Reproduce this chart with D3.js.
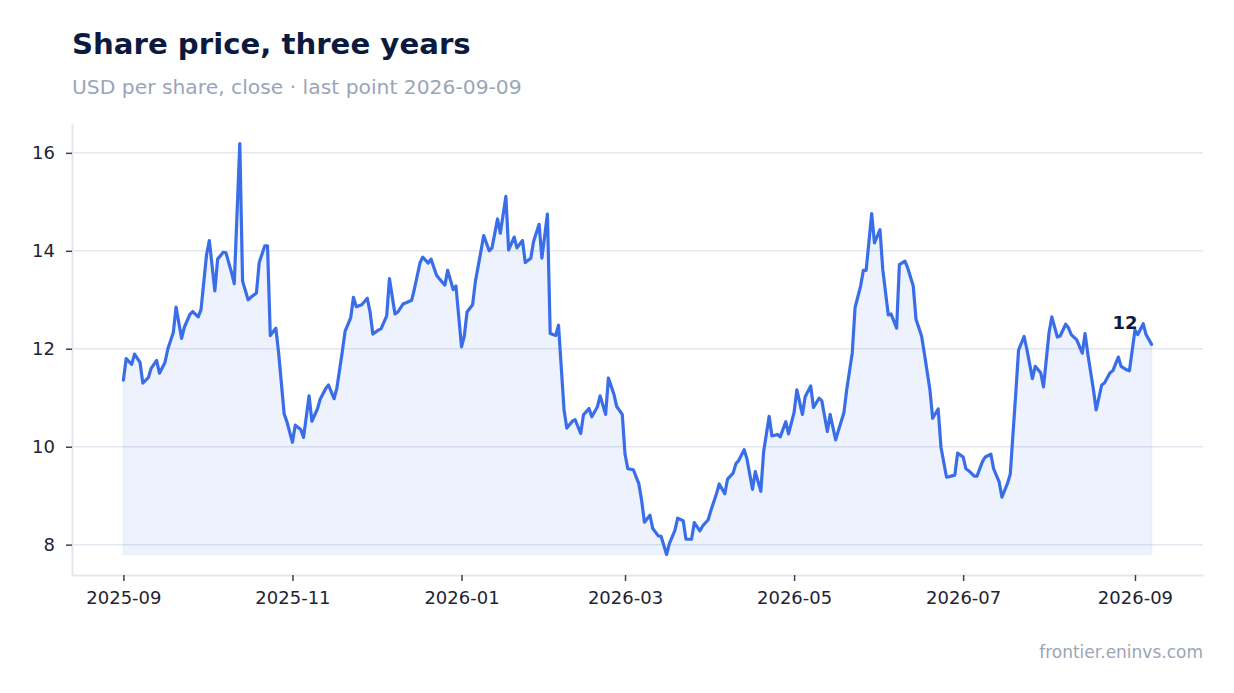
<!DOCTYPE html>
<html>
<head>
<meta charset="utf-8">
<script src="https://cdn.jsdelivr.net/npm/d3@7"></script>
<style>
  body { margin: 0; background: #fff; }
  svg { font-family: "DejaVu Sans", sans-serif; display: block; }
</style>
</head>
<body>
<div id="chart"></div>
<script>
// closing prices
const dates = [
  "2025-09-01","2025-09-02","2025-09-04","2025-09-05","2025-09-07","2025-09-08","2025-09-10","2025-09-11","2025-09-13","2025-09-14",
  "2025-09-16","2025-09-17","2025-09-19","2025-09-20","2025-09-22","2025-09-23","2025-09-25","2025-09-26","2025-09-28","2025-09-29",
  "2025-10-01","2025-10-02","2025-10-04","2025-10-05","2025-10-07","2025-10-08","2025-10-10","2025-10-11","2025-10-13","2025-10-14",
  "2025-10-16","2025-10-17","2025-10-19","2025-10-20","2025-10-22","2025-10-23","2025-10-24","2025-10-26","2025-10-27","2025-10-29",
  "2025-10-30","2025-11-01","2025-11-02","2025-11-04","2025-11-05","2025-11-07","2025-11-08","2025-11-10","2025-11-11","2025-11-13",
  "2025-11-14","2025-11-16","2025-11-17","2025-11-19","2025-11-20","2025-11-22","2025-11-23","2025-11-24","2025-11-26","2025-11-28",
  "2025-11-29","2025-11-30","2025-12-02","2025-12-03","2025-12-05","2025-12-06","2025-12-08","2025-12-09","2025-12-11","2025-12-12",
  "2025-12-14","2025-12-15","2025-12-17","2025-12-18","2025-12-20","2025-12-21","2025-12-23","2025-12-24","2025-12-26","2025-12-27",
  "2025-12-29","2025-12-30","2026-01-01","2026-01-02","2026-01-03","2026-01-05","2026-01-06","2026-01-08","2026-01-09","2026-01-11",
  "2026-01-12","2026-01-14","2026-01-15","2026-01-17","2026-01-18","2026-01-20","2026-01-21","2026-01-23","2026-01-24","2026-01-26",
  "2026-01-27","2026-01-29","2026-01-30","2026-02-01","2026-02-02","2026-02-04","2026-02-05","2026-02-07","2026-02-08","2026-02-10",
  "2026-02-11","2026-02-13","2026-02-14","2026-02-16","2026-02-17","2026-02-19","2026-02-20","2026-02-22","2026-02-23","2026-02-25",
  "2026-02-26","2026-02-28","2026-03-01","2026-03-02","2026-03-04","2026-03-06","2026-03-07","2026-03-08","2026-03-10","2026-03-11",
  "2026-03-13","2026-03-14","2026-03-16","2026-03-17","2026-03-19","2026-03-20","2026-03-22","2026-03-23","2026-03-25","2026-03-26",
  "2026-03-28","2026-03-29","2026-03-31","2026-04-01","2026-04-03","2026-04-04","2026-04-06","2026-04-07","2026-04-09","2026-04-10",
  "2026-04-11","2026-04-13","2026-04-14","2026-04-16","2026-04-17","2026-04-19","2026-04-20","2026-04-22","2026-04-23","2026-04-25",
  "2026-04-26","2026-04-28","2026-04-29","2026-05-01","2026-05-02","2026-05-04","2026-05-05","2026-05-07","2026-05-08","2026-05-10",
  "2026-05-11","2026-05-13","2026-05-14","2026-05-16","2026-05-17","2026-05-19","2026-05-20","2026-05-22","2026-05-23","2026-05-25",
  "2026-05-26","2026-05-27","2026-05-29","2026-05-30","2026-06-01","2026-06-02","2026-06-04","2026-06-05","2026-06-07","2026-06-08",
  "2026-06-10","2026-06-11","2026-06-13","2026-06-14","2026-06-16","2026-06-17","2026-06-19","2026-06-20","2026-06-22","2026-06-23",
  "2026-06-25","2026-06-26","2026-06-28","2026-06-29","2026-07-01","2026-07-02","2026-07-03","2026-07-05","2026-07-06","2026-07-08",
  "2026-07-09","2026-07-11","2026-07-12","2026-07-14","2026-07-15","2026-07-17","2026-07-18","2026-07-20","2026-07-21","2026-07-23",
  "2026-07-24","2026-07-26","2026-07-27","2026-07-29","2026-07-30","2026-08-01","2026-08-02","2026-08-04","2026-08-05","2026-08-07",
  "2026-08-08","2026-08-09","2026-08-11","2026-08-13","2026-08-14","2026-08-15","2026-08-17","2026-08-18","2026-08-20","2026-08-21",
  "2026-08-23","2026-08-24","2026-08-26","2026-08-27","2026-08-29","2026-08-30","2026-09-01","2026-09-02","2026-09-04","2026-09-05",
  "2026-09-07"
];

const prices = [
  11.36, 11.80, 11.68, 11.89, 11.72, 11.30, 11.41, 11.60, 11.76, 11.50,
  11.72, 11.99, 12.33, 12.85, 12.21, 12.44, 12.70, 12.76, 12.65, 12.80,
  13.92, 14.21, 13.18, 13.83, 13.97, 13.96, 13.56, 13.33, 16.19, 13.38,
  13.00, 13.05, 13.14, 13.76, 14.10, 14.10, 12.27, 12.42, 11.92, 10.67,
  10.51, 10.09, 10.44, 10.35, 10.19, 11.04, 10.52, 10.77, 10.97, 11.19,
  11.26, 10.98, 11.19, 11.95, 12.36, 12.63, 13.05, 12.86, 12.90, 13.03,
  12.75, 12.30, 12.38, 12.41, 12.67, 13.43, 12.71, 12.75, 12.92, 12.94,
  12.99, 13.22, 13.75, 13.87, 13.75, 13.83, 13.50, 13.43, 13.30, 13.60,
  13.21, 13.28, 12.04, 12.26, 12.75, 12.90, 13.37, 13.99, 14.31, 14.00,
  14.06, 14.65, 14.36, 15.11, 14.02, 14.28, 14.06, 14.21, 13.76, 13.85,
  14.19, 14.54, 13.85, 14.75, 12.31, 12.27, 12.48, 10.75, 10.38, 10.52,
  10.55, 10.27, 10.65, 10.78, 10.61, 10.81, 11.04, 10.66, 11.40, 11.07,
  10.82, 10.66, 9.85, 9.55, 9.53, 9.24, 8.90, 8.46, 8.60, 8.33,
  8.18, 8.17, 7.80, 8.02, 8.29, 8.54, 8.49, 8.11, 8.11, 8.45,
  8.28, 8.38, 8.51, 8.70, 9.04, 9.24, 9.04, 9.34, 9.46, 9.65,
  9.72, 9.94, 9.75, 9.13, 9.49, 9.09, 9.89, 10.62, 10.22, 10.25,
  10.20, 10.51, 10.26, 10.70, 11.16, 10.66, 11.02, 11.24, 10.80, 10.99,
  10.94, 10.31, 10.66, 10.14, 10.33, 10.70, 11.17, 11.92, 12.84, 13.28,
  13.60, 13.60, 14.76, 14.16, 14.43, 13.62, 12.69, 12.71, 12.42, 13.72,
  13.79, 13.65, 13.28, 12.60, 12.26, 11.91, 11.17, 10.58, 10.77, 9.99,
  9.38, 9.39, 9.42, 9.87, 9.79, 9.55, 9.51, 9.40, 9.40, 9.70,
  9.79, 9.85, 9.55, 9.28, 8.97, 9.25, 9.44, 11.10, 11.97, 12.25,
  11.99, 11.39, 11.64, 11.51, 11.22, 12.33, 12.65, 12.24, 12.26, 12.50,
  12.43, 12.29, 12.18, 11.91, 12.31, 11.89, 11.17, 10.75, 11.26, 11.30,
  11.51, 11.55, 11.83, 11.64, 11.57, 11.55, 12.38, 12.29, 12.51, 12.29,
  12.09
];

const title = "Share price, three years";
const subtitle = "USD per share, close \u00b7 last point 2026-09-09";
const source = "frontier.eninvs.com";

const width = 1234;
const height = 693;
const margin = { top: 123, right: 31, bottom: 118, left: 72 };

const parseDate = d3.timeParse("%Y-%m-%d");
const data = dates.map((d, i) => ({ date: parseDate(d), value: prices[i] }));

const svg = d3.select("#chart")
    .append("svg")
    .attr("width", width)
    .attr("height", height);

// pad both domains by 5% like the original
const xExt = d3.extent(data, d => d.date);
const xPad = (xExt[1] - xExt[0]) * 0.05;
const yExt = d3.extent(data, d => d.value);
const yPad = (yExt[1] - yExt[0]) * 0.05;

const x = d3.scaleTime()
    .domain([new Date(+xExt[0] - xPad), new Date(+xExt[1] + xPad)])
    .range([margin.left, width - margin.right]);

const y = d3.scaleLinear()
    .domain([yExt[0] - yPad, yExt[1] + yPad])
    .range([height - margin.bottom, margin.top]);

// grid
svg.append("g")
    .selectAll("line")
    .data(y.ticks(5))
    .enter().append("line")
    .attr("x1", margin.left)
    .attr("x2", width - margin.right)
    .attr("y1", d => y(d))
    .attr("y2", d => y(d))
    .attr("stroke", "#e3e8f0")
    .attr("stroke-width", 1.5);

// area + line
const area = d3.area()
    .x(d => x(d.date))
    .y0(y(yExt[0]))
    .y1(d => y(d.value));

const line = d3.line()
    .x(d => x(d.date))
    .y(d => y(d.value));

svg.append("path")
    .datum(data)
    .attr("d", area)
    .attr("fill", "#3a6ee8")
    .attr("fill-opacity", 0.09)
    .attr("stroke", "#3a6ee8")
    .attr("stroke-opacity", 0.06)
    .attr("stroke-width", 1.5);

svg.append("path")
    .datum(data)
    .attr("d", line)
    .attr("fill", "none")
    .attr("stroke", "#3a6ee8")
    .attr("stroke-width", 3.2)
    .attr("stroke-linejoin", "round")
    .attr("stroke-linecap", "round");

// axes
const xAxis = svg.append("g")
    .attr("transform", `translate(0,${height - margin.bottom})`)
    .call(d3.axisBottom(x)
        .ticks(d3.timeMonth.every(2))
        .tickFormat(d3.timeFormat("%Y-%m"))
        .tickSize(6)
        .tickSizeOuter(0)
        .tickPadding(10));

const yAxis = svg.append("g")
    .attr("transform", `translate(${margin.left},0)`)
    .call(d3.axisLeft(y)
        .ticks(5)
        .tickSize(6)
        .tickSizeOuter(0)
        .tickPadding(11));

[xAxis, yAxis].forEach(g => {
    g.select(".domain")
        .attr("stroke", "#e2e7ef")
        .attr("stroke-width", 2);
    g.selectAll(".tick line")
        .attr("stroke", "#3b404c")
        .attr("stroke-width", 1.5);
    g.selectAll(".tick text")
        .attr("fill", "#1f2433")
        .attr("font-size", 18)
        .attr("font-family", "DejaVu Sans");
});

// last value label
const last = data[data.length - 1];
svg.append("text")
    .attr("x", x(last.date) - 14)
    .attr("y", y(last.value) - 15)
    .attr("text-anchor", "end")
    .attr("font-size", 18)
    .attr("font-weight", "bold")
    .attr("fill", "#0d1a40")
    .text(d3.format(".0f")(last.value));

// titles
svg.append("text")
    .attr("x", 72)
    .attr("y", 54)
    .attr("font-size", 29.2)
    .attr("font-weight", "bold")
    .attr("fill", "#0d1a40")
    .text(title);

svg.append("text")
    .attr("x", 72)
    .attr("y", 94)
    .attr("font-size", 20.3)
    .attr("fill", "#9aa5b8")
    .text(subtitle);

svg.append("text")
    .attr("x", width - margin.right)
    .attr("y", 658)
    .attr("text-anchor", "end")
    .attr("font-size", 17)
    .attr("fill", "#9aa5b8")
    .text(source);
</script>
</body>
</html>
